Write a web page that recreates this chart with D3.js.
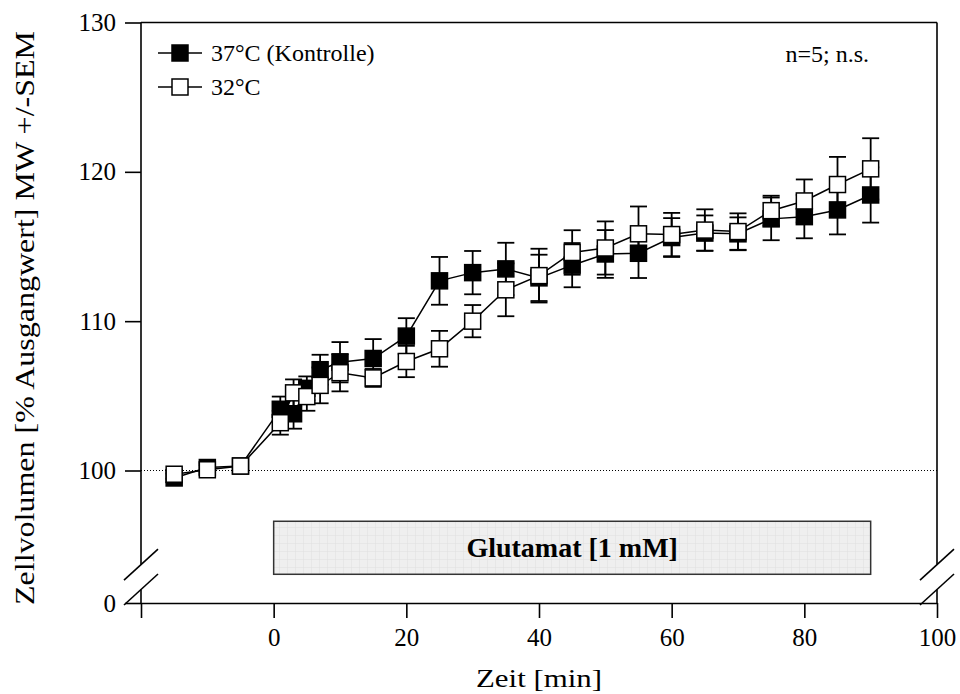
<!DOCTYPE html>
<html><head><meta charset="utf-8">
<script src="https://cdn.jsdelivr.net/npm/d3@7"></script>
<style>body{margin:0;background:#fff}svg{display:block}text{font-family:"Liberation Serif","Times New Roman",serif;fill:#000}</style>
</head><body><svg id="c" width="960" height="694"></svg>
<script>
const times = [-15,-10,-5,1,3,5,7,10,15,20,25,30,35,40,45,50,55,60,65,70,75,80,85,90];
const ctrlMean = [99.5,100.2,100.3,104.1,103.8,105.5,106.75,107.25,107.5,109.0,112.7,113.25,113.5,112.9,113.75,114.5,114.55,115.6,115.9,115.85,116.85,117.0,117.45,118.45];
const ctrlSem  = [0.3,0.3,0.3,0.85,1.0,0.8,1.0,1.35,1.3,1.2,1.6,1.45,1.75,1.55,1.48,1.6,1.66,1.3,1.18,1.1,1.43,1.45,1.64,1.85];
const coolMean = [99.75,100.05,100.3,103.2,105.2,104.95,105.7,106.55,106.2,107.3,108.15,110.0,112.1,113.05,114.6,114.9,115.85,115.8,116.1,116.0,117.4,118.05,119.15,120.2];
const coolSem  = [0.3,0.3,0.3,0.8,0.9,0.95,1.2,1.25,0.6,1.05,1.2,1.08,1.77,1.8,1.49,1.78,1.83,1.45,1.39,1.22,1.0,1.44,1.85,2.05];
const seriesNames = ["37°C (Kontrolle)","32°C"];
const xTicks = [-20,0,20,40,60,80,100];
const yTicksUpper = [100,110,120,130];
const yTicksLower = [0];
const glutamat = {label:"Glutamat [1 mM]", start:0, end:90, top:96.6, bottom:93.05};
const breakValue = 93.7;

const svg = d3.select("#c");
const x = d3.scaleLinear().domain([-20,100]).range([141,937]);
const yU = d3.scaleLinear().domain([100,130]).range([470.5,22.5]);
const yL = d3.scaleLinear().domain([0,1]).range([603,589.5]);
const FS = 25;

// pattern
const defs = svg.append("defs");
const pat = defs.append("pattern").attr("id","grid").attr("width",8).attr("height",8).attr("patternUnits","userSpaceOnUse");
pat.append("rect").attr("width",8).attr("height",8).attr("fill","#efefef");
pat.append("path").attr("d","M8 0V8M0 8H8").attr("stroke","#dcdcdc").attr("stroke-width",0.8).attr("fill","none");

// glutamat box
svg.append("rect").attr("x",x(glutamat.start)).attr("y",yU(glutamat.top))
  .attr("width",x(glutamat.end)-x(glutamat.start)).attr("height",yU(glutamat.bottom)-yU(glutamat.top))
  .attr("fill","url(#grid)").attr("stroke","#333").attr("stroke-width",1.5);
svg.append("text").attr("x",(x(glutamat.start)+x(glutamat.end))/2).attr("y",(yU(glutamat.top)+yU(glutamat.bottom))/2+9)
  .attr("text-anchor","middle").attr("font-weight","bold").attr("font-size",28).text(glutamat.label);

// dotted 100 line
svg.append("line").attr("x1",x(-20)).attr("x2",x(100)).attr("y1",yU(100)).attr("y2",yU(100))
  .attr("stroke","#000").attr("stroke-width",1).attr("stroke-dasharray","1,2");

// frame / axes
const ax = svg.append("g").attr("stroke","#000").attr("stroke-width",1.6).attr("fill","none");
ax.append("line").attr("x1",x(-20)).attr("x2",x(100)).attr("y1",yU(130)).attr("y2",yU(130));
[x(-20), x(100)].forEach(px=>{
  ax.append("line").attr("x1",px).attr("x2",px).attr("y1",yU(130)).attr("y2",yU(breakValue));
  ax.append("line").attr("x1",px).attr("x2",px).attr("y1",yL(1)).attr("y2",yL(0));
  [yU(breakValue), yL(1)].forEach(py=>{
    ax.append("line").attr("x1",px-17).attr("y1",py+15.5).attr("x2",px+17).attr("y2",py-15.5);
  });
});

// x axis
const xAxis = d3.axisBottom(x).tickValues(xTicks).tickFormat(d=>d<0?"":d3.format("d")(d)).tickSize(15).tickSizeOuter(0).tickPadding(10);
const gx = svg.append("g").attr("transform",`translate(0,${yL(0)})`).call(xAxis);
gx.selectAll("path,line").attr("stroke","#000").attr("stroke-width",1.6);
gx.selectAll("text").attr("font-size",FS);

// y axis upper / lower
const fmt = d3.format("d");
const yAxisU = d3.axisLeft(yU).tickValues(yTicksUpper).tickFormat(fmt).tickSize(16).tickPadding(9);
const gyu = svg.append("g").attr("transform",`translate(${x(-20)},0)`).call(yAxisU);
gyu.select(".domain").remove();
gyu.selectAll("line").attr("stroke","#000").attr("stroke-width",1.6);
gyu.selectAll("text").attr("font-size",FS);
const yAxisL = d3.axisLeft(yL).tickValues(yTicksLower).tickFormat(fmt).tickSize(16).tickPadding(9);
const gyl = svg.append("g").attr("transform",`translate(${x(-20)},0)`).call(yAxisL);
gyl.select(".domain").remove();
gyl.selectAll("line").attr("stroke","#000").attr("stroke-width",1.6);
gyl.selectAll("text").attr("font-size",FS);

// titles
svg.append("text").attr("x",x(40)).attr("y",687).attr("text-anchor","middle").attr("font-size",26)
  .attr("textLength",126).attr("lengthAdjust","spacingAndGlyphs").text("Zeit [min]");
svg.append("text").attr("transform",`translate(34,318) rotate(-90)`).attr("text-anchor","middle")
  .attr("font-size",27).attr("textLength",574).attr("lengthAdjust","spacingAndGlyphs").text("Zellvolumen [% Ausgangwert] MW +/-SEM");
svg.append("text").attr("x",869).attr("y",62).attr("text-anchor","end").attr("font-size",24).text("n=5; n.s.");

// series
const S = 16, CAP = 17;
function drawSeries(mean, sem, fill){
  const data = times.map((t,i)=>({t, m:mean[i], e:sem[i]}));
  const g = svg.append("g");
  const eb = g.append("g").attr("stroke","#000").attr("stroke-width",1.8);
  data.forEach(d=>{
    eb.append("line").attr("x1",x(d.t)).attr("x2",x(d.t)).attr("y1",yU(d.m-d.e)).attr("y2",yU(d.m+d.e));
    [d.m-d.e, d.m+d.e].forEach(v=>eb.append("line").attr("x1",x(d.t)-CAP/2).attr("x2",x(d.t)+CAP/2).attr("y1",yU(v)).attr("y2",yU(v)));
  });
  g.append("path").datum(data).attr("d",d3.line().x(d=>x(d.t)).y(d=>yU(d.m)))
    .attr("fill","none").attr("stroke","#000").attr("stroke-width",1.5);
  g.selectAll("rect").data(data).join("rect")
    .attr("x",d=>x(d.t)-S/2).attr("y",d=>yU(d.m)-S/2).attr("width",S).attr("height",S)
    .attr("fill",fill).attr("stroke","#000").attr("stroke-width",1.5);
}
drawSeries(ctrlMean, ctrlSem, "#000");
drawSeries(coolMean, coolSem, "#fff");

// legend
const leg = svg.append("g");
seriesNames.forEach((n,i)=>{
  const cy = 53 + i*34;
  leg.append("line").attr("x1",158).attr("x2",202).attr("y1",cy).attr("y2",cy).attr("stroke","#000").attr("stroke-width",1.5);
  leg.append("rect").attr("x",180-S/2).attr("y",cy-S/2).attr("width",S).attr("height",S)
    .attr("fill",i===0?"#000":"#fff").attr("stroke","#000").attr("stroke-width",1.5);
  leg.append("text").attr("x",211).attr("y",cy+8).attr("font-size",24).text(n);
});
</script></body></html>
